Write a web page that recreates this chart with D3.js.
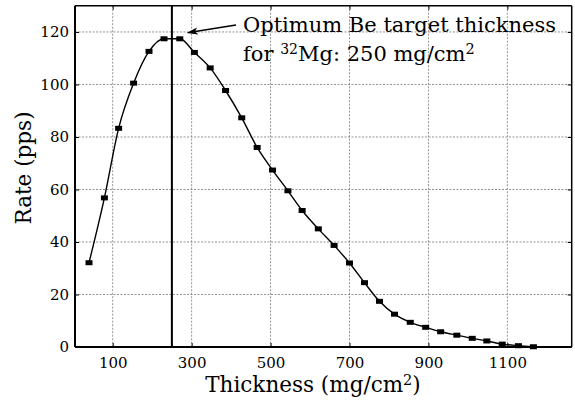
<!DOCTYPE html>
<html><head><meta charset="utf-8">
<script src="https://cdn.jsdelivr.net/npm/d3@7"></script>
<style>
html,body{margin:0;padding:0;background:#fff;}
svg{display:block;}
text{font-family:"DejaVu Serif",serif;fill:#000;}
</style></head>
<body>
<svg id="c" width="575" height="404"></svg>
<script>
const thickness = [40, 79, 115, 153, 192, 230, 270, 307, 347, 386, 427, 466, 505, 544, 580, 621, 661, 700, 738, 776, 814, 854, 893, 931, 972, 1011, 1048, 1087, 1128, 1166];
const rate = [32.1, 56.8, 83.3, 100.5, 112.6, 117.4, 117.4, 112.2, 106.3, 97.7, 87.3, 76.0, 67.4, 59.5, 52.0, 45.0, 38.7, 32.0, 24.5, 17.4, 12.5, 9.4, 7.5, 5.8, 4.5, 3.3, 2.3, 1.1, 0.5, 0.1];
const xTicks = [100, 300, 500, 700, 900, 1100];
const yTicks = [0, 20, 40, 60, 80, 100, 120];
const optimum = 250;

const svg = d3.select("#c");
const L = 75, R = 571.7, T = 5.7, B = 347;
const x = d3.scaleLinear().domain([4.5, 1263]).range([L, R]);
const y = d3.scaleLinear().domain([0, 130]).range([B, T]);

// grid
const grid = svg.append("g").attr("stroke", "#777").attr("stroke-width", 0.8).attr("stroke-dasharray", "2,1.5");
grid.selectAll(".gx").data(xTicks).join("line")
  .attr("x1", d => x(d)).attr("x2", d => x(d)).attr("y1", T).attr("y2", B);
grid.selectAll(".gy").data(yTicks.filter(d => d > 0)).join("line")
  .attr("y1", d => y(d)).attr("y2", d => y(d)).attr("x1", L).attr("x2", R);

// axes
const ax = svg.append("g").attr("transform", `translate(0,${B})`)
  .call(d3.axisBottom(x).tickValues(xTicks).tickSizeInner(-4).tickSizeOuter(0).tickPadding(10).tickFormat(d3.format("d")));
const ay = svg.append("g").attr("transform", `translate(${L},0)`)
  .call(d3.axisLeft(y).tickValues(yTicks).tickSizeInner(-4).tickSizeOuter(0).tickPadding(6).tickFormat(d3.format("d")));
const at = svg.append("g").attr("transform", `translate(0,${T})`)
  .call(d3.axisTop(x).tickValues(xTicks).tickSizeInner(-4).tickSizeOuter(0).tickFormat(""));
const ar = svg.append("g").attr("transform", `translate(${R},0)`)
  .call(d3.axisRight(y).tickValues(yTicks).tickSizeInner(-4).tickSizeOuter(0).tickFormat(""));
[ax, ay, at, ar].forEach(g => {
  g.selectAll("text").style("font-family", "DejaVu Serif").style("font-size", "15px").attr("fill", "#000");
  g.selectAll("line").attr("stroke", "#000").attr("stroke-width", 1);
  g.select(".domain").remove();
});

// frame
svg.append("line").attr("x1", L).attr("x2", R).attr("y1", B).attr("y2", B).attr("stroke", "#000").attr("stroke-width", 2);
svg.append("line").attr("x1", L).attr("x2", L).attr("y1", T).attr("y2", B).attr("stroke", "#000").attr("stroke-width", 2);
svg.append("line").attr("x1", L).attr("x2", R).attr("y1", T).attr("y2", T).attr("stroke", "#000").attr("stroke-width", 1.5);
svg.append("line").attr("x1", R).attr("x2", R).attr("y1", T).attr("y2", B).attr("stroke", "#000").attr("stroke-width", 1.5);

// optimum line
svg.append("line").attr("x1", x(optimum)).attr("x2", x(optimum)).attr("y1", T).attr("y2", B)
  .attr("stroke", "#000").attr("stroke-width", 2);

// curve
const pts = thickness.map((t, i) => [t, rate[i]]);
svg.append("path").datum(pts)
  .attr("d", d3.line().x(d => x(d[0])).y(d => y(d[1])).curve(d3.curveMonotoneX))
  .attr("fill", "none").attr("stroke", "#000").attr("stroke-width", 1.4);
svg.selectAll(".m").data(pts).join("rect")
  .attr("x", d => x(d[0]) - 3.5).attr("y", d => y(d[1]) - 2.5)
  .attr("width", 7).attr("height", 5).attr("fill", "#000");

// annotation arrow
const ann = svg.append("g");
ann.append("line").attr("x1", 236).attr("y1", 25).attr("x2", 192).attr("y2", 32)
  .attr("stroke", "#000").attr("stroke-width", 1.3);
ann.append("path").attr("d", "M186.5,33 L197,27.5 L195,31.5 L198.5,34.5 Z").attr("fill", "#000");
const t1 = ann.append("text").attr("x", 243).attr("y", 31.5).style("font-size", "21px")
  .text("Optimum Be target thickness");
const t2 = ann.append("text").attr("x", 243).attr("y", 61).style("font-size", "21px");
t2.append("tspan").text("for ");
t2.append("tspan").attr("dy", -7).style("font-size", "14px").text("32");
t2.append("tspan").attr("dy", 7).text("Mg: 250 mg/cm");
t2.append("tspan").attr("dy", -7).style("font-size", "14.5px").text("2");

// axis titles
const xt = svg.append("text").attr("x", 313).attr("y", 392).attr("text-anchor", "middle").style("font-size", "21.5px");
xt.append("tspan").text("Thickness (mg/cm");
xt.append("tspan").attr("dy", -7).style("font-size", "14.5px").text("2");
xt.append("tspan").attr("dy", 7).text(")");
svg.append("text").attr("transform", "translate(31,168) rotate(-90)").attr("text-anchor", "middle")
  .style("font-size", "21.5px").text("Rate (pps)");
</script>
</body></html>
